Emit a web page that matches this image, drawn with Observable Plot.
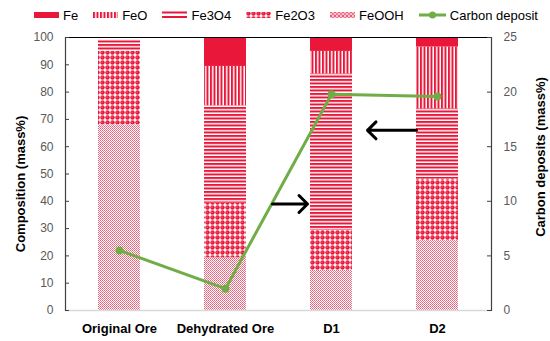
<!DOCTYPE html>
<html><head><meta charset="utf-8">
<script src="https://cdn.jsdelivr.net/npm/d3@7"></script>
<script src="https://cdn.jsdelivr.net/npm/@observablehq/plot@0.6"></script>
<style>
body{margin:0;background:#fff;font-family:"Liberation Sans",Arial,sans-serif;}
#legend{height:30px;width:550px;display:flex;align-items:center;padding-left:34px;font-size:13px;color:#000;box-sizing:border-box;white-space:nowrap;}
.item{display:flex;align-items:center;margin-right:15px;flex-shrink:0;}
.item svg{margin-right:4px;display:block;}
</style></head><body>
<svg width="0" height="0" style="position:absolute">
<defs>
<pattern id="pFe" patternUnits="userSpaceOnUse" width="4" height="4"><rect width="4" height="4" fill="#E9173A"/></pattern>
<pattern id="pFeO" patternUnits="userSpaceOnUse" width="3.5" height="4"><rect width="3.5" height="4" fill="#fff"/><rect width="2" height="4" fill="#E9173A"/></pattern>
<pattern id="pFe3O4" patternUnits="userSpaceOnUse" width="4" height="3.5"><rect width="4" height="3.5" fill="#fff"/><rect width="4" height="2" fill="#E9173A"/></pattern>
<pattern id="pFe2O3" patternUnits="userSpaceOnUse" width="5" height="5"><rect width="5" height="5" fill="#fff"/><circle cx="2.5" cy="2.5" r="2.2" fill="#E9173A"/><circle cx="2" cy="2" r="0.6" fill="#F7A0B0"/></pattern>
<pattern id="pFeOOH" patternUnits="userSpaceOnUse" width="4" height="4"><rect width="4" height="4" fill="#fff"/><rect width="1" height="1" fill="#EE5C78"/><rect x="2" width="1" height="1" fill="#EE5C78"/><rect x="1" y="1" width="1" height="1" fill="#F07A90"/><rect x="3" y="1" width="1" height="1" fill="#F07A90"/><rect y="2" width="1" height="1" fill="#EE5C78"/><rect x="2" y="2" width="1" height="1" fill="#EE5C78"/><rect x="1" y="3" width="1" height="1" fill="#F07A90"/><rect x="3" y="3" width="1" height="1" fill="#F07A90"/></pattern>
<pattern id="pFeOOHl" patternUnits="userSpaceOnUse" width="4" height="4"><rect width="4" height="4" fill="#F9C4CE"/><rect width="2" height="2" fill="#EE5C78"/><rect x="2" y="2" width="2" height="2" fill="#F07A90"/></pattern>
</defs></svg>
<div id="legend"></div>
<div id="chart"></div>
<script>
const categories = ["Original Ore", "Dehydrated Ore", "D1", "D2"];
const species = ["FeOOH", "Fe2O3", "Fe3O4", "FeO", "Fe"];
const FeOOH = [68, 19.3, 14.7, 25.6];
const Fe2O3 = [27, 20, 14.6, 22.6];
const Fe3O4 = [4, 35.7, 57.4, 25.7];
const FeO = [0, 14.4, 8.2, 22.6];
const Fe = [0, 10.5, 5.1, 3.5];
const carbon = [5.5, 2.0, 19.8, 19.6];
const compTicks = [0, 10, 20, 30, 40, 50, 60, 70, 80, 90, 100];
const carbonTicks = [0, 5, 10, 15, 20, 25];
const arrowFrom = ["Dehydrated Ore", "D2"];
const arrowTo = ["D1", "D1"];
const arrowY = [39, 66];
const legendOrder = ["Fe", "FeO", "Fe3O4", "Fe2O3", "FeOOH"];

const values = {FeOOH, Fe2O3, Fe3O4, FeO, Fe};
const rows = [];
categories.forEach((c, i) => species.forEach(s => rows.push({cat: c, sp: s, v: values[s][i]})));
const carbonRows = categories.map((c, i) => ({cat: c, c: carbon[i]}));
const arrows = arrowFrom.map((f, i) => ({from: f, to: arrowTo[i], y: arrowY[i]}));
const scaleK = 100 / 25;
const red = "#E9173A";
const green = "#70AD47";

// legend
const lg = document.getElementById("legend");
legendOrder.forEach(s => {
  const it = document.createElement("div"); it.className = "item";
  let sw;
  if (s === "Fe3O4") sw = `<svg width="25" height="8"><rect y="0.5" width="25" height="2" fill="${red}"/><rect y="5" width="25" height="2" fill="${red}"/></svg>`;
  else if (s === "FeOOH") sw = `<svg width="25" height="8"><rect y="1" width="25" height="6" fill="url(#pFeOOHl)"/></svg>`;
  else sw = `<svg width="25" height="8"><rect y="1" width="25" height="6" fill="url(#p${s})"/></svg>`;
  it.innerHTML = sw + `<span>${s}</span>`;
  lg.appendChild(it);
});
{
  const it = document.createElement("div"); it.className = "item";
  it.innerHTML = `<svg width="27" height="8"><line x1="0" x2="27" y1="4" y2="4" stroke="${green}" stroke-width="3"/><circle cx="13.5" cy="4" r="3.5" fill="${green}"/></svg><span>Carbon deposit</span>`;
  lg.appendChild(it);
}

const W = 550, H = 311, mL = 65, mR = 59;
const plotW = W - mL - mR;

const chart = Plot.plot({
  width: W, height: H,
  marginLeft: mL, marginRight: mR, marginTop: 7, marginBottom: 31,
  style: {fontFamily: "'Liberation Sans', Arial, sans-serif", fontSize: "12px", background: "#fff"},
  x: {domain: categories, paddingInner: 0.6, paddingOuter: 0.3},
  y: {domain: [0, 100]},
  color: {type: "identity"},
  marks: [
    Plot.barY(rows, {x: "cat", y: "v", fill: d => `url(#p${d.sp})`, order: species}),
    Plot.ruleY([0], {stroke: "#D9D9D9", strokeWidth: 1.5}),
    Plot.ruleY([100], {stroke: "#000", strokeWidth: 1.2}),
    Plot.frame({anchor: "left", stroke: "#404040", strokeWidth: 1.2}),
    Plot.frame({anchor: "right", stroke: "#404040", strokeWidth: 1.2}),
    Plot.ruleY(compTicks, {stroke: "#404040", insetRight: plotW - 4}),
    Plot.ruleY(carbonTicks.map(d => d * scaleK), {stroke: "#404040", insetLeft: plotW - 4}),
    Plot.axisY({anchor: "left", ticks: compTicks, tickSize: 0, tickPadding: 12, color: "#595959", fontSize: 12, label: null}),
    Plot.axisY({anchor: "right", ticks: carbonTicks.map(d => d * scaleK), tickFormat: d => d / scaleK, tickSize: 0, tickPadding: 12, color: "#595959", fontSize: 12, label: null}),
    Plot.axisX({tickSize: 0, tickPadding: 13, fontWeight: "bold", fontSize: 13, color: "#000", label: null}),
    Plot.text(["Composition (mass%)"], {frameAnchor: "left", text: d => d, rotate: -90, textAnchor: "middle", dx: -45, dy: 10, fontWeight: "bold", fontSize: 13, fill: "#000"}),
    Plot.text(["Carbon deposits (mass%)"], {frameAnchor: "right", text: d => d, rotate: -90, textAnchor: "middle", dx: 49, dy: -17, fontWeight: "bold", fontSize: 13, fill: "#000"}),
    Plot.line(carbonRows, {x: "cat", y: d => d.c * scaleK, stroke: green, strokeWidth: 3}),
    Plot.dot(carbonRows, {x: "cat", y: d => d.c * scaleK, r: 4, fill: green}),
    Plot.arrow(arrows.slice(0, 1), {x1: "from", x2: "to", y1: "y", y2: "y", stroke: "#000", strokeWidth: 3, headLength: 6, headAngle: 90, strokeLinejoin: "miter", insetStart: 47, insetEnd: 24}),
    Plot.arrow(arrows.slice(1), {x1: "from", x2: "to", y1: "y", y2: "y", stroke: "#000", strokeWidth: 3, headLength: 6, headAngle: 90, strokeLinejoin: "miter", insetStart: 21, insetEnd: 36})
  ]
});
document.getElementById("chart").appendChild(chart);
</script>
</body></html>
